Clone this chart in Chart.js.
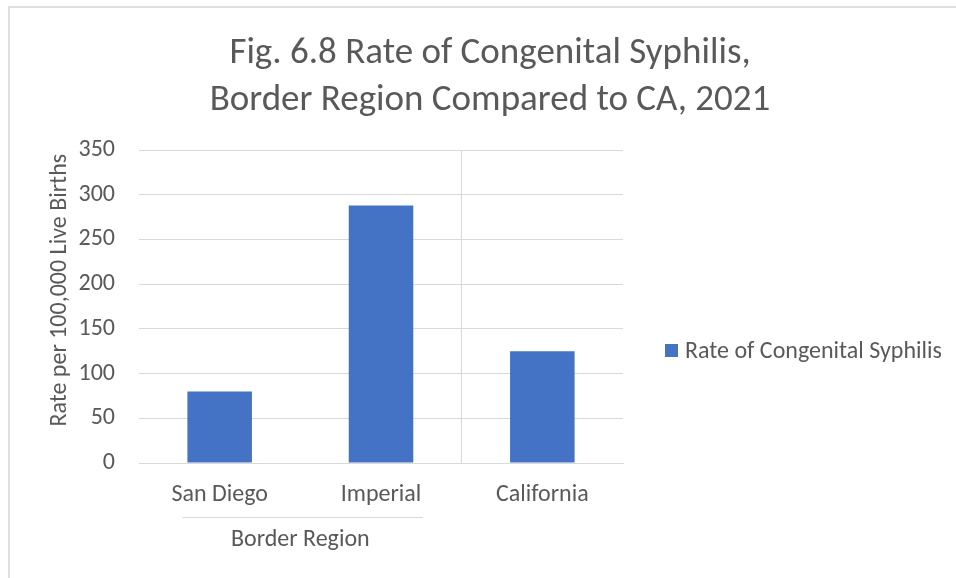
<!DOCTYPE html>
<html>
<head>
<meta charset="utf-8">
<script src="https://cdn.jsdelivr.net/npm/chart.js@4.4.0/dist/chart.umd.min.js"></script>
<style>
html, body { margin: 0; padding: 0; background: #fff; }
#wrap { position: relative; width: 956px; height: 578px; overflow: hidden; }
#frame { position: absolute; left: 8px; top: 6px; width: 1200px; height: 900px; border: 2px solid #e0e0e0; }
#myBarChart { position: absolute; left: 0; top: 0; }
</style>
</head>
<body>
<div id="wrap">
	<div id="frame"></div>
	<canvas id="myBarChart" width="956" height="578"></canvas>
</div>
<script>
var categories = ['San Diego', 'Imperial', 'California'];
var rates = [80, 288, 125];
var groupLabel = 'Border Region';
var groupCount = 2; // first two categories belong to the border region
var seriesName = 'Rate of Congenital Syphilis';
var titleLines = ['Fig. 6.8 Rate of Congenital Syphilis,', 'Border Region Compared to CA, 2021'];
var yTitle = 'Rate per 100,000 Live Births';
var yMax = 350;
var yStep = 50;

var textColor = '#595959';
var gridColor = '#d9d9d9';
var barColor = '#4472c4';
var fontName = 'Carlito, Calibri, "Open Sans", sans-serif';

// title over the whole chart object, group bracket under the first categories, legend on the right
var extras = {
	id: 'extras',
	afterDraw: function(chart) {
		var ctx = chart.ctx;
		var x = chart.scales.x;
		var area = chart.chartArea;
		var cat = x.getPixelForValue(1) - x.getPixelForValue(0);
		var left = x.getPixelForValue(0) - cat * 0.23;
		var right = x.getPixelForValue(groupCount - 1) + cat * 0.26;
		var mid = (x.getPixelForValue(0) + x.getPixelForValue(groupCount - 1)) / 2;

		ctx.save();
		ctx.fillStyle = textColor;
		ctx.textBaseline = 'alphabetic';

		// title
		ctx.font = '37px ' + fontName;
		ctx.textAlign = 'center';
		ctx.fillText(titleLines[0], 490, 63);
		ctx.fillText(titleLines[1], 490, 110);

		// group bracket
		ctx.strokeStyle = gridColor;
		ctx.lineWidth = 1;
		ctx.beginPath();
		ctx.moveTo(left, area.bottom + 54.5);
		ctx.lineTo(right, area.bottom + 54.5);
		ctx.stroke();

		ctx.font = '24px ' + fontName;
		ctx.fillText(groupLabel, mid, area.bottom + 83);

		// legend
		var lx = area.right + 42;
		var ly = area.bottom - 105;
		ctx.fillStyle = chart.data.datasets[0].backgroundColor;
		ctx.fillRect(lx, ly - 14, 13, 13);
		ctx.fillStyle = textColor;
		ctx.textAlign = 'left';
		ctx.fillText(chart.data.datasets[0].label, lx + 20, ly);
		ctx.restore();
	}
};

var ctx = document.getElementById('myBarChart').getContext('2d');
var myBarChart = new Chart(ctx, {
	type: 'bar',
	data: {
		labels: categories,
		datasets: [{
			label: seriesName,
			backgroundColor: barColor,
			borderWidth: 0,
			barPercentage: 0.4,
			categoryPercentage: 1,
			data: rates
		}]
	},
	plugins: [extras],
	options: {
		responsive: false,
		animation: false,
		devicePixelRatio: 1,
		layout: {
			padding: { left: 0, right: 333, top: 150, bottom: 0 }
		},
		plugins: {
			legend: { display: false },
			tooltip: { enabled: false },
			title: { display: false }
		},
		scales: {
			x: {
				grid: {
					offset: true,
					drawTicks: false,
					color: function(c) { return c.index === groupCount ? gridColor : 'rgba(0,0,0,0)'; }
				},
				border: { display: true, color: gridColor },
				ticks: {
					color: textColor,
					padding: 18,
					font: { family: fontName, size: 24 }
				},
				afterFit: function(scale) { scale.height = 115; }
			},
			y: {
				min: 0,
				max: yMax,
				grid: { color: gridColor, drawTicks: false },
				border: { display: false },
				ticks: {
					stepSize: yStep,
					color: textColor,
					padding: 24,
					font: { family: fontName, size: 24 }
				},
				title: {
					display: true,
					text: '      ' + yTitle,
					color: textColor,
					font: { family: fontName, size: 24 },
					padding: { top: 46, bottom: 0 }
				},
				afterFit: function(scale) { scale.width = 139; }
			}
		}
	}
});
</script>
</body>
</html>
